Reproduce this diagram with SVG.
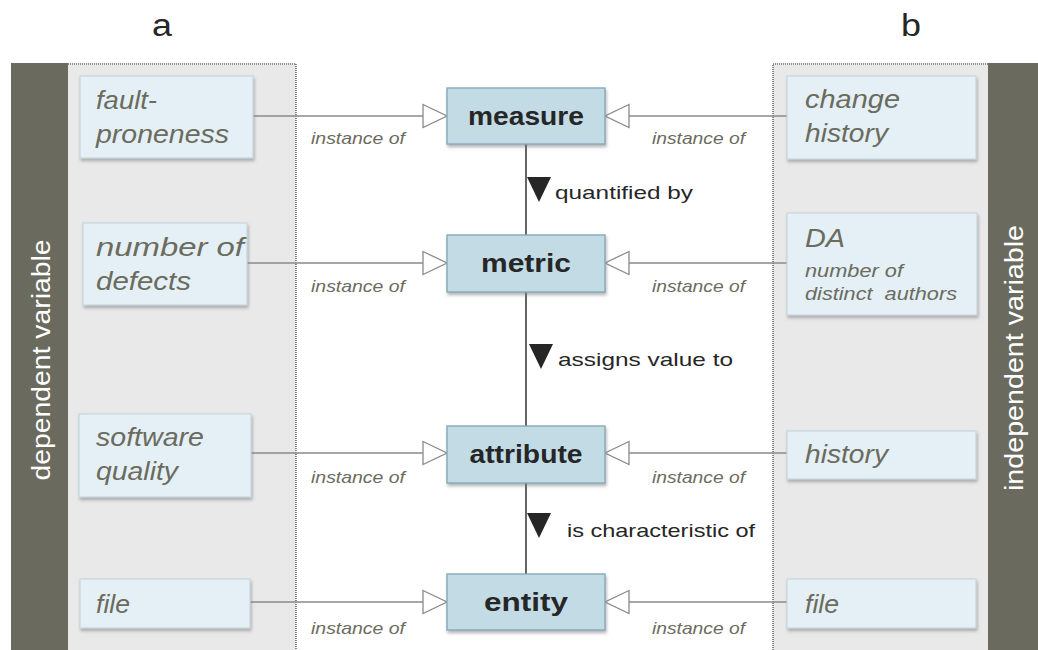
<svg xmlns="http://www.w3.org/2000/svg" width="1038" height="650" viewBox="0 0 1038 650">
  <defs>
    <filter id="shadow" x="-10%" y="-10%" width="125%" height="135%">
      <feDropShadow dx="1" dy="2.5" stdDeviation="1.4" flood-color="#7a7a7a" flood-opacity="0.55"/>
    </filter>
    <polygon id="hollowRight" points="-24,-11.5 0,0 -24,11.5" fill="#ffffff" stroke="#8a8a8a" stroke-width="1.3"/>
    <polygon id="hollowLeft" points="24,-11.5 0,0 24,11.5" fill="#ffffff" stroke="#8a8a8a" stroke-width="1.3"/>
    <polygon id="downTri" points="0,0 24,0 12,25" fill="#262626"/>
  </defs>
  <style>
    .bar { fill: #6a6b5e; }
    .panel { fill: #e9e9e9; }
    .dots { stroke: #3c3c3c; stroke-width: 1.2; stroke-dasharray: 1 1; fill: none; }
    .leaf { fill: #e4f0f6; stroke: #c6d8e0; stroke-width: 1.2; filter: url(#shadow); }
    .core { fill: #c2dbe5; stroke: #85aab7; stroke-width: 1.4; filter: url(#shadow); }
    .leafText { font-family: "Liberation Sans", Arial, sans-serif; font-style: italic; fill: #6b6b5e; font-size: 25px; }
    .smallText { font-family: "Liberation Sans", Arial, sans-serif; font-style: italic; fill: #6b6b5e; font-size: 19px; }
    .coreText { font-family: "Liberation Sans", Arial, sans-serif; font-weight: bold; fill: #262626; font-size: 25px; text-anchor: middle; }
    .inst { font-family: "Liberation Sans", Arial, sans-serif; font-style: italic; fill: #6b6b5e; font-size: 16.5px; }
    .rel { font-family: "Liberation Sans", Arial, sans-serif; fill: #262626; font-size: 19px; }
    .side { font-family: "Liberation Sans", Arial, sans-serif; fill: #ffffff; font-size: 25px; text-anchor: middle; }
    .head { font-family: "Liberation Sans", Arial, sans-serif; fill: #262626; font-size: 31px; }
    .link { stroke: #8a8a8a; stroke-width: 1.5; fill: none; }
    .spine { stroke: #333333; stroke-width: 1.5; fill: none; }
  </style>

  <!-- column headings -->
  <text class="head" x="152" y="36" textLength="20" lengthAdjust="spacingAndGlyphs">a</text>
  <text class="head" x="901" y="36" textLength="20" lengthAdjust="spacingAndGlyphs">b</text>

  <!-- dependent side panel -->
  <g id="panel-dependent">
    <rect class="panel" x="68" y="63" width="228" height="587"/>
    <rect class="bar" x="11" y="63" width="57" height="587"/>
    <path class="dots" d="M68,64 H296 V650"/>
    <text class="side" transform="translate(50,360) rotate(-90)" textLength="241" lengthAdjust="spacingAndGlyphs">dependent variable</text>
  </g>

  <!-- independent side panel -->
  <g id="panel-independent">
    <rect class="panel" x="773" y="63" width="215" height="587"/>
    <rect class="bar" x="988" y="63" width="50" height="587"/>
    <path class="dots" d="M988,64 H773 V650"/>
    <text class="side" transform="translate(1023,358) rotate(-90)" textLength="266" lengthAdjust="spacingAndGlyphs">independent variable</text>
  </g>

  <!-- connectors -->
  <g id="connectors">
    <path class="spine" d="M526,144 V235 M526,292 V426 M526,483 V574"/>
    <line class="link" x1="253" y1="116" x2="423" y2="116"/>
    <line class="link" x1="247" y1="263" x2="423" y2="263"/>
    <line class="link" x1="251" y1="453" x2="423" y2="453"/>
    <line class="link" x1="250" y1="602" x2="423" y2="602"/>
    <line class="link" x1="787" y1="116" x2="629" y2="116"/>
    <line class="link" x1="787" y1="263" x2="629" y2="263"/>
    <line class="link" x1="787" y1="453" x2="629" y2="453"/>
    <line class="link" x1="787" y1="602" x2="629" y2="602"/>
    <use href="#hollowRight" x="447" y="116"/>
    <use href="#hollowRight" x="447" y="263"/>
    <use href="#hollowRight" x="447" y="453"/>
    <use href="#hollowRight" x="447" y="602"/>
    <use href="#hollowLeft" x="605" y="116"/>
    <use href="#hollowLeft" x="605" y="263"/>
    <use href="#hollowLeft" x="605" y="453"/>
    <use href="#hollowLeft" x="605" y="602"/>
    <text class="inst" x="311" y="144" textLength="94" lengthAdjust="spacingAndGlyphs">instance of</text>
    <text class="inst" x="311" y="292" textLength="94" lengthAdjust="spacingAndGlyphs">instance of</text>
    <text class="inst" x="311" y="483" textLength="94" lengthAdjust="spacingAndGlyphs">instance of</text>
    <text class="inst" x="311" y="634" textLength="94" lengthAdjust="spacingAndGlyphs">instance of</text>
    <text class="inst" x="652" y="144" textLength="93" lengthAdjust="spacingAndGlyphs">instance of</text>
    <text class="inst" x="652" y="292" textLength="93" lengthAdjust="spacingAndGlyphs">instance of</text>
    <text class="inst" x="652" y="483" textLength="93" lengthAdjust="spacingAndGlyphs">instance of</text>
    <text class="inst" x="652" y="634" textLength="93" lengthAdjust="spacingAndGlyphs">instance of</text>
    <use href="#downTri" x="527" y="177"/>
    <text class="rel" x="555" y="199" textLength="138" lengthAdjust="spacingAndGlyphs">quantified by</text>
    <use href="#downTri" x="529" y="344"/>
    <text class="rel" x="558" y="366" textLength="175" lengthAdjust="spacingAndGlyphs">assigns value to</text>
    <use href="#downTri" x="527" y="513"/>
    <text class="rel" x="567" y="537" textLength="188" lengthAdjust="spacingAndGlyphs">is characteristic of</text>
  </g>

  <!-- core concepts -->
  <g id="measure">
    <rect class="core" x="447" y="88" width="158" height="56"/>
    <text class="coreText" x="526" y="125" textLength="116" lengthAdjust="spacingAndGlyphs">measure</text>
  </g>
  <g id="metric">
    <rect class="core" x="447" y="235" width="158" height="57"/>
    <text class="coreText" x="526" y="272" textLength="90" lengthAdjust="spacingAndGlyphs">metric</text>
  </g>
  <g id="attribute">
    <rect class="core" x="447" y="426" width="158" height="57"/>
    <text class="coreText" x="526" y="463" textLength="113" lengthAdjust="spacingAndGlyphs">attribute</text>
  </g>
  <g id="entity">
    <rect class="core" x="447" y="574" width="158" height="56"/>
    <text class="coreText" x="526" y="611" textLength="84" lengthAdjust="spacingAndGlyphs">entity</text>
  </g>

  <!-- dependent variable instances -->
  <g id="fault-proneness">
    <rect class="leaf" x="80" y="76" width="173" height="82"/>
    <text class="leafText" x="96" y="109" textLength="61" lengthAdjust="spacingAndGlyphs">fault-</text>
    <text class="leafText" x="96" y="143" textLength="133" lengthAdjust="spacingAndGlyphs">proneness</text>
  </g>
  <g id="number-of-defects">
    <rect class="leaf" x="83" y="223" width="164" height="82"/>
    <text class="leafText" x="96" y="256" textLength="148" lengthAdjust="spacingAndGlyphs">number of</text>
    <text class="leafText" x="96" y="290" textLength="95" lengthAdjust="spacingAndGlyphs">defects</text>
  </g>
  <g id="software-quality">
    <rect class="leaf" x="79" y="414" width="172" height="83"/>
    <text class="leafText" x="96" y="446" textLength="108" lengthAdjust="spacingAndGlyphs">software</text>
    <text class="leafText" x="96" y="480" textLength="82" lengthAdjust="spacingAndGlyphs">quality</text>
  </g>
  <g id="file-dependent">
    <rect class="leaf" x="80" y="579" width="170" height="49"/>
    <text class="leafText" x="96" y="613" textLength="34" lengthAdjust="spacingAndGlyphs">file</text>
  </g>

  <!-- independent variable instances -->
  <g id="change-history">
    <rect class="leaf" x="787" y="76" width="189" height="83"/>
    <text class="leafText" x="805" y="108" textLength="95" lengthAdjust="spacingAndGlyphs">change</text>
    <text class="leafText" x="805" y="142" textLength="83" lengthAdjust="spacingAndGlyphs">history</text>
  </g>
  <g id="distinct-authors">
    <rect class="leaf" x="787" y="213" width="190" height="102"/>
    <text class="leafText" x="805" y="247" font-size="26" textLength="40" lengthAdjust="spacingAndGlyphs">DA</text>
    <text class="smallText" x="805" y="277" textLength="98" lengthAdjust="spacingAndGlyphs">number of</text>
    <text class="smallText" x="805" y="300" textLength="152" lengthAdjust="spacingAndGlyphs" xml:space="preserve">distinct  authors</text>
  </g>
  <g id="history">
    <rect class="leaf" x="787" y="431" width="189" height="48"/>
    <text class="leafText" x="805" y="463" textLength="83" lengthAdjust="spacingAndGlyphs">history</text>
  </g>
  <g id="file-independent">
    <rect class="leaf" x="787" y="579" width="189" height="49"/>
    <text class="leafText" x="805" y="613" textLength="34" lengthAdjust="spacingAndGlyphs">file</text>
  </g>
</svg>
